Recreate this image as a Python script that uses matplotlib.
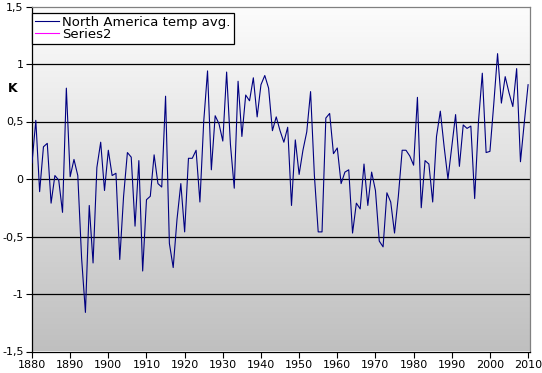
import numpy as np
import matplotlib
matplotlib.use("Agg")
from matplotlib import pyplot as plt
from matplotlib.ticker import FuncFormatter

years = list(range(1880, 2011))
temps = [
    0.14, 0.51, -0.11, 0.28, 0.31, -0.21, 0.03, -0.01, -0.29, 0.79,   # 1880s
    0.02, 0.17, 0.03, -0.69, -1.16, -0.23, -0.73, 0.10, 0.32, -0.10,  # 1890s
    0.25, 0.03, 0.05, -0.70, -0.15, 0.23, 0.19, -0.41, 0.16, -0.80,   # 1900s
    -0.18, -0.15, 0.21, -0.04, -0.07, 0.72, -0.56, -0.77, -0.35, -0.04,  # 1910s
    -0.46, 0.18, 0.18, 0.25, -0.20, 0.50, 0.94, 0.08, 0.55, 0.48,     # 1920s
    0.33, 0.93, 0.30, -0.08, 0.85, 0.37, 0.73, 0.68, 0.88, 0.54,      # 1930s
    0.82, 0.90, 0.79, 0.42, 0.54, 0.42, 0.32, 0.45, -0.23, 0.34,      # 1940s
    0.04, 0.25, 0.41, 0.76, 0.03, -0.46, -0.46, 0.53, 0.57, 0.22,     # 1950s
    0.27, -0.04, 0.06, 0.08, -0.47, -0.21, -0.26, 0.13, -0.23, 0.06,  # 1960s
    -0.10, -0.54, -0.59, -0.12, -0.20, -0.47, -0.15, 0.25, 0.25, 0.20,  # 1970s
    0.12, 0.71, -0.25, 0.16, 0.13, -0.20, 0.37, 0.59, 0.28, 0.00,     # 1980s
    0.28, 0.56, 0.11, 0.47, 0.44, 0.46, -0.17, 0.50, 0.92, 0.23,      # 1990s
    0.24, 0.65, 1.09, 0.66, 0.89, 0.75, 0.63, 0.96, 0.15, 0.49,       # 2000s
    0.82,                                                             # 2010
]
series2 = []

x_ticks = list(range(1880, 2011, 10))
y_ticks = [-1.5, -1.0, -0.5, 0.0, 0.5, 1.0, 1.5]

fig = plt.figure(figsize=(5.42, 3.73), dpi=100)
ax = fig.add_axes([32 / 542, 1 - 351.5 / 373, (530 - 32) / 542, 345 / 373])

x0, x1 = 1880, 2010.5
y0, y1 = -1.5, 1.5

# white at the top -> grey at the bottom
grad = np.linspace(0.99, 0.75, 256).reshape(-1, 1)
ax.imshow(np.dstack([grad, grad, grad]), extent=[x0, x1, y0, y1],
          origin="upper", aspect="auto", zorder=0, interpolation="bilinear")

for v in [-1.0, -0.5, 0.0, 0.5, 1.0]:
    ax.axhline(v, color="black", linewidth=0.9, zorder=1)

ax.plot(years, temps, color="#000080", linewidth=0.8, zorder=3,
        label="North America temp avg.")
ax.plot(years[:len(series2)], series2, color="#ff00ff", linewidth=0.8,
        label="Series2")

ax.set_xlim(x0, x1)
ax.set_ylim(y0, y1)
ax.set_xticks(x_ticks)
ax.set_yticks(y_ticks)
ax.yaxis.set_major_formatter(FuncFormatter(
    lambda v, p: ("%g" % v).replace(".", ",")))
ax.tick_params(direction="out", length=4, width=0.8, labelsize=8, pad=2)

ax.spines["left"].set_color("black")
ax.spines["bottom"].set_color("black")
ax.spines["top"].set_color("#808080")
ax.spines["right"].set_color("#808080")
for s in ax.spines.values():
    s.set_linewidth(0.9)

fig.text(8 / 542, 1 - 88 / 373, "K", fontsize=9, fontweight="bold",
         ha="left", va="center")

leg = ax.legend(loc="upper left", bbox_to_anchor=(0, 1 - 6.2 / 345),
                borderaxespad=0, fontsize=9.5, frameon=True, fancybox=False,
                edgecolor="black", framealpha=1, handlelength=1.8,
                handletextpad=0.25, labelspacing=-0.1, borderpad=0.25)
leg.get_frame().set_linewidth(0.9)

fig.savefig("out.png", dpi=100)
